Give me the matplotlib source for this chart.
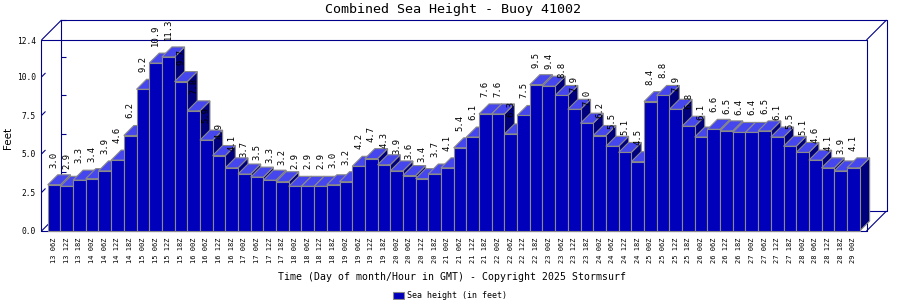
import matplotlib
matplotlib.use("Agg")
import matplotlib.pyplot as plt
from matplotlib.patches import Polygon, Rectangle
from matplotlib.lines import Line2D

title = "Combined Sea Height - Buoy 41002"
x_title = "Time (Day of month/Hour in GMT) - Copyright 2025 Stormsurf"
y_title = "Feet"
legend_label = "Sea height (in feet)"

time_labels = [
    "13 06Z", "13 12Z", "13 18Z",
    "14 00Z", "14 06Z", "14 12Z", "14 18Z",
    "15 00Z", "15 06Z", "15 12Z", "15 18Z",
    "16 00Z", "16 06Z", "16 12Z", "16 18Z",
    "17 00Z", "17 06Z", "17 12Z", "17 18Z",
    "18 00Z", "18 06Z", "18 12Z", "18 18Z",
    "19 00Z", "19 06Z", "19 12Z", "19 18Z",
    "20 00Z", "20 06Z", "20 12Z", "20 18Z",
    "21 00Z", "21 06Z", "21 12Z", "21 18Z",
    "22 00Z", "22 06Z", "22 12Z", "22 18Z",
    "23 00Z", "23 06Z", "23 12Z", "23 18Z",
    "24 00Z", "24 06Z", "24 12Z", "24 18Z",
    "25 00Z", "25 06Z", "25 12Z", "25 18Z",
    "26 00Z", "26 06Z", "26 12Z", "26 18Z",
    "27 00Z", "27 06Z", "27 12Z", "27 18Z",
    "28 00Z", "28 06Z", "28 12Z", "28 18Z",
    "29 00Z",
]

sea_height = [
    3.0, 2.9, 3.3, 3.4, 3.9, 4.6, 6.2, 9.2, 10.9, 11.3,
    9.7, 7.8, 5.9, 4.9, 4.1, 3.7, 3.5, 3.3, 3.2, 2.9,
    2.9, 2.9, 3.0, 3.2, 4.2, 4.7, 4.3, 3.9, 3.6, 3.4,
    3.7, 4.1, 5.4, 6.1, 7.6, 7.6, 6.3, 7.5, 9.5, 9.4,
    8.8, 7.9, 7.0, 6.2, 5.5, 5.1, 4.5, 8.4, 8.8, 7.9,
    6.8, 6.1, 6.6, 6.5, 6.4, 6.4, 6.5, 6.1, 5.5, 5.1,
    4.6, 4.1, 3.9, 4.1,
]

y_ticks = [0.0, 2.5, 5.0, 7.5, 10.0, 12.4]
y_tick_labels = ["0.0", "2.5", "5.0", "7.5", "10.0", "12.4"]

MONO = "DejaVu Sans Mono"
FRONT = "#0000BB"
TOP = "#4646EE"
SIDE = "#00007C"
EDGE = "#8A8A8A"
NAVY = "#000088"

W, H = 900, 300
fig = plt.figure(figsize=(9, 3), dpi=100)
fig.patch.set_facecolor("white")

# front panel in pixels
L, R, T, B = 41.5, 866.5, 40.0, 231.0
ax = fig.add_axes([L / W, 1 - B / H, (R - L) / W, (B - T) / H])
ax.set_facecolor("none")
n = len(sea_height)
xmin, xmax = -0.99, n + 0.04
ymin, ymax = 0.0, 12.4
ax.set_xlim(xmin, xmax)
ax.set_ylim(ymin, ymax)
for s in ax.spines.values():
    s.set_visible(False)

sx = (R - L) / (xmax - xmin)   # px per x unit
sy = (B - T) / (ymax - ymin)   # px per y unit

def off(px_x, px_y):
    return px_x / sx, px_y / sy

wdx, wdy = off(20, 20)   # wall depth
bdx, bdy = off(10, 10)   # bar depth

lw1 = 0.8

def line(xs, ys, z=1, color=NAVY, lw=lw1):
    ax.add_line(Line2D(xs, ys, color=color, lw=lw, zorder=z, clip_on=False,
                       solid_capstyle="butt"))

# back wall rectangle
line([xmin + wdx, xmax + wdx, xmax + wdx, xmin + wdx, xmin + wdx],
     [ymin + wdy, ymin + wdy, ymax + wdy, ymax + wdy, ymin + wdy])
# connecting edges
for (cx, cy) in [(xmin, ymin), (xmax, ymin), (xmax, ymax), (xmin, ymax)]:
    line([cx, cx + wdx], [cy, cy + wdy])
# front rectangle
line([xmin, xmax, xmax, xmin, xmin], [ymin, ymin, ymax, ymax, ymin])

# tick marks: small diagonals on front left, short ticks on back wall
tdx, tdy = off(4, 4)
tlen, _ = off(4, 0)
for yt in y_ticks[1:-1]:
    line([xmin, xmin + tdx], [yt, yt + tdy])
for yt in y_ticks[1:]:
    line([xmin + wdx, xmin + wdx + tlen], [yt + wdy, yt + wdy])

# bars
xs = list(range(n))
bars = ax.bar(xs, sea_height, width=1.0, color=FRONT, edgecolor=EDGE,
              linewidth=lw1)
for i, (p, v) in enumerate(zip(bars, sea_height)):
    z = 5 + i * 0.01
    x0, x1 = i - 0.5, i + 0.5
    side = Polygon([(x1, 0), (x1 + bdx, bdy), (x1 + bdx, v + bdy), (x1, v)],
                   closed=True, facecolor=SIDE, edgecolor=EDGE, lw=lw1,
                   zorder=z, clip_on=False)
    top = Polygon([(x0, v), (x1, v), (x1 + bdx, v + bdy), (x0 + bdx, v + bdy)],
                  closed=True, facecolor=TOP, edgecolor=EDGE, lw=lw1,
                  zorder=z + 0.002, clip_on=False)
    ax.add_patch(side)
    ax.add_patch(top)
    p.set_zorder(z + 0.004)
    p.set_clip_on(False)

# value labels
for i, v in enumerate(sea_height):
    ax.annotate(f"{v:.1f}", (i, v), xytext=(0, 17 * 72 / 100),
                textcoords="offset points", rotation=90, ha="center",
                va="bottom", fontsize=6.4, family=MONO, color="black",
                zorder=50, annotation_clip=False)

# axes ticks
ax.set_xticks(xs)
ax.set_xticklabels(time_labels, rotation=90, fontsize=5.0, family=MONO)
ax.set_yticks(y_ticks)
ax.set_yticklabels(y_tick_labels, fontsize=5.7, family=MONO)
ax.tick_params(axis="x", length=0, pad=5)
ax.tick_params(axis="y", length=0, pad=4)

# titles
fig.text(453 / W, 1 - 9.5 / H, title, ha="center", va="center",
         fontsize=9.6, family=MONO)
fig.text(451.5 / W, 1 - 277.5 / H, x_title, ha="center", va="center",
         fontsize=7.15, family=MONO)
fig.text(7.5 / W, 1 - 137.5 / H, y_title, ha="center", va="center",
         fontsize=7.5, rotation=90, family="DejaVu Sans")

# legend
fig.add_artist(Rectangle((393 / W, 1 - 299 / H), 11 / W, 7.5 / H,
                         transform=fig.transFigure, facecolor=FRONT,
                         edgecolor=EDGE, lw=0.8))
fig.text(407 / W, 1 - 295.5 / H, legend_label, ha="left", va="center",
         fontsize=6.0, family=MONO)

fig.savefig("out.png", dpi=100)
